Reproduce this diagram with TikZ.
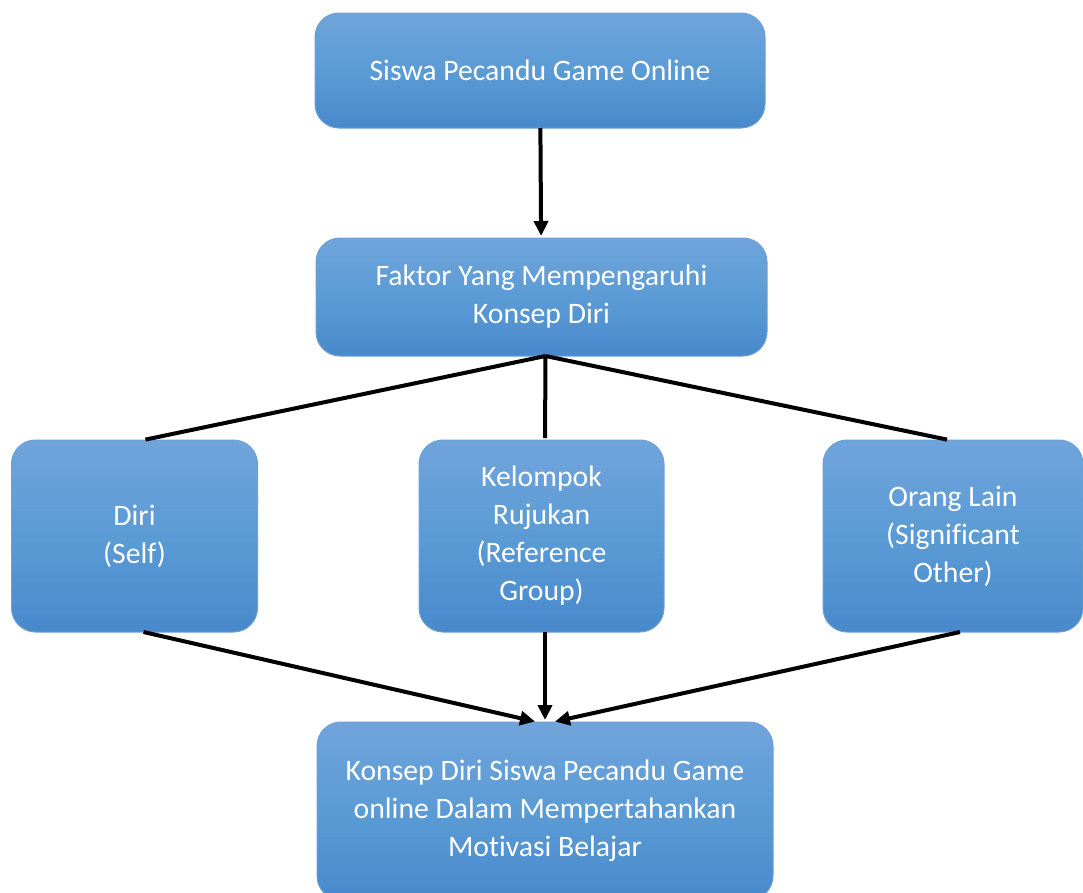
\documentclass[tikz,border=0pt]{standalone}
\usepackage{fontspec}
\setmainfont[Ligatures=NoCommon]{Carlito}
\usetikzlibrary{arrows.meta,positioning}

\definecolor{boxtop}{RGB}{112,164,219}
\definecolor{boxmid}{RGB}{91,155,213}
\definecolor{boxbot}{RGB}{72,137,204}
\definecolor{boxline}{RGB}{110,160,214}

\begin{document}
\begin{tikzpicture}[x=1pt,y=-1pt,line width=4pt,>={Triangle[length=15pt,width=14pt]},shorten >=2pt,
    box/.style={draw=boxline,line width=1pt,rounded corners=24pt,top color=boxtop,bottom color=boxbot,middle color=boxmid,
        text=white,align=center,inner sep=0pt,outer sep=0pt,font=\fontsize{29.7}{38}\selectfont}]
        \useasboundingbox (0,0) rectangle (1083,892);
        \node[box,minimum width=450pt,minimum height=115pt] (v1) at (540,70.5) {Siswa Pecandu Game Online};
        \node[box,minimum width=451pt,minimum height=118pt] (v2) at (541.5,297) {Faktor Yang Mempengaruhi\\Konsep Diri};
        \draw (v1) edge[->] (v2);
        \node[box,minimum width=246pt,minimum height=192pt] (v3) at (134.5,536) {Diri\\(Self)};
        \node[box,minimum width=245pt,minimum height=192pt] (v4) at (541.5,536) {Kelompok\\Rujukan\\(Reference\\Group)};
        \node[box,minimum width=260pt,minimum height=192pt] (v5) at (953,536) {Orang Lain\\(Significant\\Other)};
        \draw ([xshift=4pt]v2.south) -- ([xshift=9pt]v3.north);
        \draw ([xshift=4pt]v2.south) -- ([xshift=3.5pt]v4.north);
        \draw ([xshift=4pt]v2.south) -- ([xshift=-4pt]v5.north);
        \node[box,minimum width=456pt,minimum height=178pt] (v6) at (545,811) {Konsep Diri Siswa Pecandu Game\\online Dalam Mempertahankan\\Motivasi Belajar};
        \draw ([xshift=9pt]v3.south) edge[->] ([xshift=-8pt]v6.north);
        \draw ([xshift=3.5pt]v4.south) edge[->] (v6.north);
        \draw ([xshift=7pt]v5.south) edge[->] ([xshift=8pt]v6.north);
    \end{tikzpicture}
\end{document}
